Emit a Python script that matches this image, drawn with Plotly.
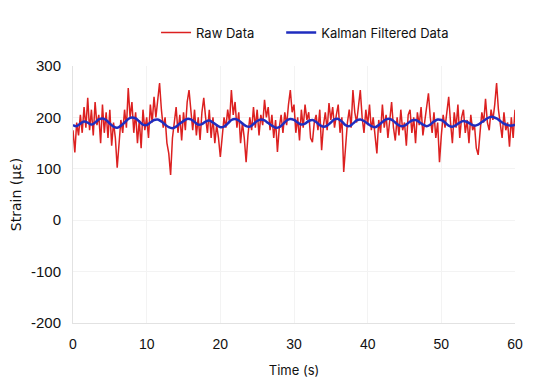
import numpy as np
import plotly.graph_objects as go

raw_time_step = 0.25
raw_values = [
    175, 132, 190, 165,
    205, 170, 220, 180,
    238, 175, 215, 165,
    230, 185, 205, 150,
    225, 170, 210, 160,
    215, 145, 190, 160,
    102, 150, 195, 170,
    215, 180, 257, 200,
    230, 170, 210, 150,
    195, 140, 215, 175,
    200, 160, 225, 190,
    240, 200, 232, 267,
    215, 180, 200, 150,
    130, 88, 160, 195,
    220, 170, 205, 155,
    210, 175, 230, 253,
    205, 175, 215, 165,
    200, 156, 210, 238,
    200, 170, 215, 160,
    200, 150, 185, 160,
    123, 165, 200, 180,
    215, 190, 253, 205,
    230, 180, 210, 150,
    190, 160, 113, 165,
    200, 175, 220, 180,
    215, 165, 205, 185,
    234, 200, 220, 175,
    205, 160, 195, 133,
    180, 205, 170, 210,
    185, 225, 253, 210,
    225, 170, 200, 155,
    215, 180, 225, 195,
    210, 160, 152, 190,
    205, 175, 215, 136,
    185, 210, 175, 228,
    195, 220, 180, 205,
    225, 170, 200, 94,
    150, 190, 215, 180,
    253, 210, 190, 225,
    253, 200, 170, 215,
    185, 225, 175, 200,
    165, 130, 195, 170,
    225, 180, 205, 160,
    195, 230, 180, 155,
    200, 165, 215, 175,
    190, 145, 205, 215,
    170, 200, 150, 210,
    185, 220, 165, 195,
    215, 247, 200, 170,
    210, 160, 190, 113,
    165, 205, 180, 215,
    240, 190, 150, 210,
    180, 225, 160, 200,
    215, 170, 195, 150,
    205, 175, 185, 140,
    127, 170, 210, 190,
    236, 190, 175, 215,
    195, 225, 267, 215,
    190, 160, 210, 175,
    190, 143, 200, 160,
    215,
]
raw_time = [i * raw_time_step for i in range(len(raw_values))]

kalman_time_step = 0.5
kalman_values = [
    185, 183, 188, 192, 190, 186, 190, 196, 198, 195,
    188, 182, 180, 184, 190, 197, 200, 198, 192, 186,
    185, 190, 195, 196, 192, 186, 181, 179, 182, 188,
    193, 197, 196, 191, 186, 187, 192, 194, 190, 185,
    181, 182, 188, 195, 197, 194, 188, 183, 182, 187,
    193, 196, 194, 189, 184, 180, 181, 187, 194, 197,
    195, 190, 186, 188, 193, 195, 191, 185, 182, 184,
    190, 196, 197, 192, 185, 183, 188, 194, 196, 193,
    188, 183, 181, 185, 191, 196, 197, 193, 187, 183,
    184, 189, 194, 195, 191, 186, 183, 186, 192, 196,
    195, 190, 184, 182, 185, 190, 193, 191, 187, 184,
    186, 191, 196, 200, 201, 198, 193, 188, 185, 184,
    186,
]
kalman_time = [i * kalman_time_step for i in range(len(kalman_values))]

x_ticks = [0, 10, 20, 30, 40, 50, 60]
y_ticks = [-200, -100, 0, 100, 200, 300]
y_tick_labels = ["-200", "-100", "0", "100", "200", "300"]

fig = go.Figure()
fig.add_trace(go.Scatter(x=raw_time, y=raw_values, mode="lines",
                         name="Raw Data" + "\u00a0" * 6,
                         line=dict(color="#dc2020", width=1.5)))
fig.add_trace(go.Scatter(x=kalman_time, y=kalman_values, mode="lines", name="Kalman Filtered Data",
                         line=dict(color="#1f2dbf", width=2.5, shape="spline")))

fig.update_layout(
    width=542, height=378,
    margin=dict(l=65, r=35, t=58, b=63, autoexpand=False),
    paper_bgcolor="white", plot_bgcolor="white",
    font=dict(family="Liberation Sans, Arial, sans-serif", size=14, color="#111"),
    legend=dict(orientation="h", x=0.525, xanchor="center", y=1.13, yanchor="middle",
                font=dict(size=13, family="Inter, sans-serif"), traceorder="normal"),
    showlegend=True,
)
fig.update_xaxes(range=[0, 60], tickvals=x_ticks, showgrid=True, gridcolor="#f3f3f3",
                 showline=True, linecolor="#e2e2e2", zeroline=False, ticks="",
                 automargin=False, ticklabelstandoff=8,
                 title=dict(text="Time (s)", font=dict(size=13, family="Inter, sans-serif"), standoff=15),
                 tickfont=dict(size=14))
fig.update_yaxes(range=[-200, 300], tickvals=y_ticks, ticktext=y_tick_labels, showgrid=True,
                 gridcolor="#f3f3f3",
                 showline=True, linecolor="#e2e2e2", zeroline=False, ticks="",
                 automargin=False, ticklabelstandoff=8,
                 title=dict(text="Strain (με)", font=dict(size=14, family="DejaVu Sans"), standoff=12),
                 tickfont=dict(size=15))

fig.write_html("out.html")
